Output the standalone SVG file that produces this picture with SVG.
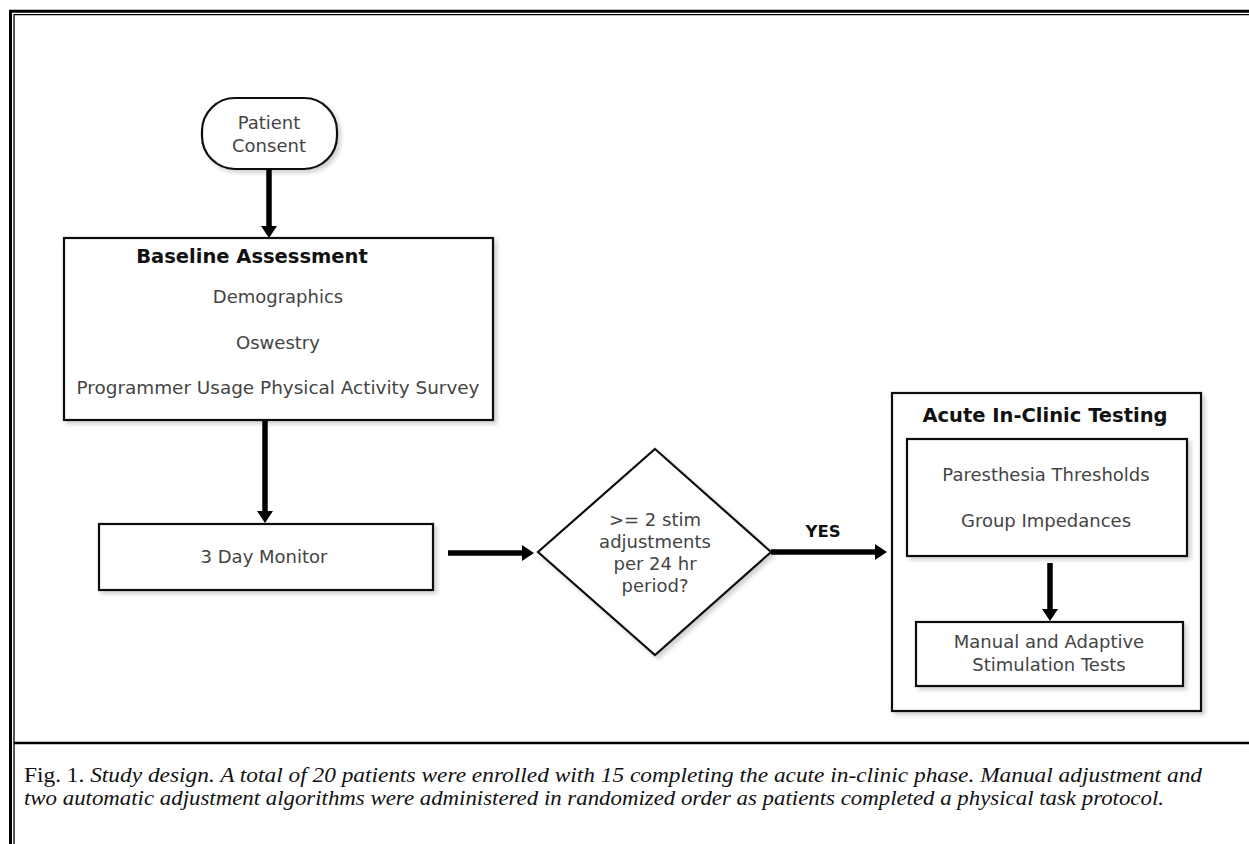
<svg xmlns="http://www.w3.org/2000/svg" width="1249" height="844" viewBox="0 0 1249 844">
<style>
.box{fill:#fff;stroke:#111;stroke-width:2.2}
.t{font-family:"DejaVu Sans",Verdana,sans-serif;font-size:18px;fill:#444;text-anchor:middle}
.b{font-family:"DejaVu Sans",Verdana,sans-serif;font-weight:bold;font-size:19.5px;fill:#111;text-anchor:middle}
.conn{stroke:#000;stroke-width:5.5;fill:none;marker-end:url(#ah)}
.cap{font-family:"Liberation Serif","Times New Roman",serif;font-size:21px;fill:#111}
</style>
<defs>
<marker id="ah" markerUnits="userSpaceOnUse" viewBox="0 0 12 16" refX="0" refY="8" markerWidth="12" markerHeight="16" orient="auto">
<path d="M0,0 L12,8 L0,16 z" fill="#000"/>
</marker>
<filter id="sh" x="-5%" y="-5%" width="115%" height="120%">
<feDropShadow dx="3" dy="3" stdDeviation="2" flood-color="#000" flood-opacity="0.18"/>
</filter>
</defs>
<rect width="1249" height="844" fill="#fff"/>
<g id="frame" fill="none" stroke="#000">
<path d="M10.5,844 V11.3 H1249" stroke-width="3"/>
<path d="M14,844 V14.7 H1249" stroke-width="1.3"/>
<line x1="14" y1="743" x2="1249" y2="743" stroke-width="2.6"/>
</g>
<g id="consent">
<rect class="box" x="202" y="98" width="135" height="71" rx="33" ry="33" filter="url(#sh)"/>
<text class="t" x="269" y="129">Patient</text>
<text class="t" x="269" y="152">Consent</text>
</g>
<g id="baseline">
<rect class="box" x="64" y="238" width="429" height="182" filter="url(#sh)"/>
<text class="b" x="252" y="263">Baseline Assessment</text>
<text class="t" x="278" y="303">Demographics</text>
<text class="t" x="278" y="349">Oswestry</text>
<text class="t" x="278" y="394" textLength="403" lengthAdjust="spacingAndGlyphs">Programmer Usage Physical Activity Survey</text>
</g>
<g id="monitor">
<rect class="box" x="99" y="524" width="334" height="66" filter="url(#sh)"/>
<text class="t" x="264" y="563">3 Day Monitor</text>
</g>
<g id="decision">
<polygon class="box" points="655,449 771,552 655,655 538,552" filter="url(#sh)"/>
<text class="t" x="655" y="526">&gt;= 2 stim</text>
<text class="t" x="655" y="548">adjustments</text>
<text class="t" x="655" y="570">per 24 hr</text>
<text class="t" x="655" y="592">period?</text>
</g>
<g id="acute">
<rect class="box" x="892" y="393" width="309" height="318" filter="url(#sh)"/>
<text class="b" x="1045" y="422">Acute In-Clinic Testing</text>
</g>
<g id="thresholds">
<rect class="box" x="907" y="439" width="280" height="117" filter="url(#sh)"/>
<text class="t" x="1046" y="481">Paresthesia Thresholds</text>
<text class="t" x="1046" y="527">Group Impedances</text>
</g>
<g id="tests">
<rect class="box" x="916" y="622" width="267" height="64" filter="url(#sh)"/>
<text class="t" x="1049" y="648">Manual and Adaptive</text>
<text class="t" x="1049" y="671">Stimulation Tests</text>
</g>
<g id="connectors">
<line class="conn" x1="269" y1="169" x2="269" y2="226"/>
<line class="conn" x1="265" y1="421" x2="265" y2="511"/>
<line class="conn" x1="448" y1="553" x2="522" y2="553"/>
<line class="conn" x1="771" y1="552" x2="875" y2="552"/>
<line class="conn" x1="1050" y1="563" x2="1050" y2="609"/>
<text x="823" y="537" style="font-family:'DejaVu Sans',Verdana,sans-serif;font-weight:bold;font-size:16.5px;fill:#111;text-anchor:middle">YES</text>
</g>
<g id="caption">
<text class="cap" x="24" y="782" textLength="1178" lengthAdjust="spacingAndGlyphs">Fig. 1. <tspan font-style="italic">Study design. A total of 20 patients were enrolled with 15 completing the acute in-clinic phase. Manual adjustment and</tspan></text>
<text class="cap" x="24" y="805" font-style="italic" textLength="1140" lengthAdjust="spacingAndGlyphs">two automatic adjustment algorithms were administered in randomized order as patients completed a physical task protocol.</text>
</g>
</svg>
